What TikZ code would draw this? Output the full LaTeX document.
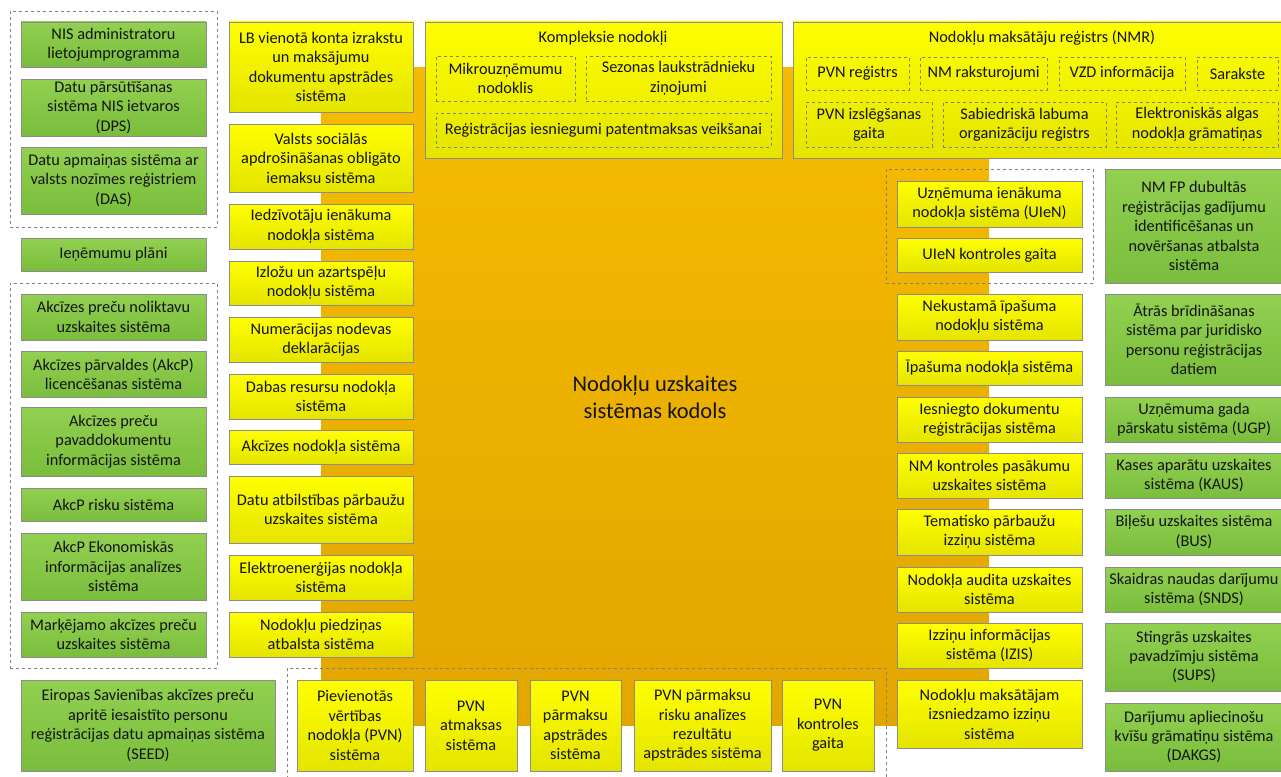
\documentclass[tikz,border=0pt]{standalone}
\usepackage{fontspec}
\setmainfont{Carlito}
\usetikzlibrary{shadows}
\definecolor{gtop}{RGB}{146,208,80}
\definecolor{gbot}{RGB}{122,189,60}
\definecolor{ytop}{RGB}{255,255,0}
\definecolor{ybot}{RGB}{228,228,0}
\definecolor{otop}{RGB}{246,187,0}
\definecolor{obot}{RGB}{226,166,0}
\definecolor{txt}{RGB}{20,20,20}
\definecolor{dash}{RGB}{128,128,128}
\tikzset{
  basebox/.style={rectangle,inner sep=0pt,align=center,text=txt,
    font=\fontsize{16.3}{19.4}\selectfont,
    drop shadow={opacity=0.25,shadow xshift=1pt,shadow yshift=-1pt}},
  gbox/.style={basebox,draw=black!45,top color=gtop,bottom color=gbot},
  ybox/.style={basebox,draw=black!45,top color=ytop,bottom color=ybot},
  ibox/.style={rectangle,inner sep=0pt,align=center,text=txt,draw=dash,dashed,
    font=\fontsize{16.3}{19.4}\selectfont},
  dgroup/.style={rectangle,inner sep=0pt,draw=dash,dashed},
  ttl/.style={text=txt,font=\fontsize{16.3}{19.4}\selectfont,inner sep=0pt}
}
\newcommand\bx[7]{%
  \pgfmathsetmacro\mybw{#4-#2}\pgfmathsetmacro\mybh{#5-#3}%
  \node[#6,minimum width=\mybw pt,minimum height=\mybh pt] (#1) at ({(#2+#4)/2},{(#3+#5)/2}) {#7};}
\begin{document}
\begin{tikzpicture}[x=1pt,y=-1pt]
\useasboundingbox (0,0) rectangle (1281,776);
% core
\path[top color=otop,bottom color=obot] (321,67) rectangle (989,725);
\node[text=txt,align=center,font=\fontsize{22.5}{27}\selectfont] (core) at (655,397) {Nodokļu uzskaites\\sistēmas kodols};
% dashed groups
\bx{dgA}{10}{11}{217}{227}{dgroup}{}
\bx{dgB}{10}{283}{217}{668}{dgroup}{}
\bx{dgC}{886}{169}{1093}{283}{dgroup}{}
\bx{dgD}{287}{668}{886}{790}{dgroup}{}
% left green
\bx{g1}{21}{22}{206}{67}{gbox}{NIS administratoru\\lietojumprogramma}
\bx{g2}{21}{79}{206}{136}{gbox}{Datu pārsūtīšanas\\sistēma NIS ietvaros\\(DPS)}
\bx{g3}{21}{147}{206}{214}{gbox}{Datu apmaiņas sistēma ar\\valsts nozīmes reģistriem\\(DAS)}
\bx{g4}{21}{238}{206}{271}{gbox}{Ieņēmumu plāni}
\bx{g5}{21}{294}{206}{340}{gbox}{Akcīzes preču noliktavu\\uzskaites sistēma}
\bx{g6}{21}{351}{206}{397}{gbox}{Akcīzes pārvaldes (AkcP)\\licencēšanas sistēma}
\bx{g7}{21}{407}{206}{476}{gbox}{Akcīzes preču\\pavaddokumentu\\informācijas sistēma}
\bx{g8}{21}{488}{206}{521}{gbox}{AkcP risku sistēma}
\bx{g9}{21}{533}{206}{600}{gbox}{AkcP Ekonomiskās\\informācijas analīzes\\sistēma}
\bx{g10}{21}{612}{206}{657}{gbox}{Marķējamo akcīzes preču\\uzskaites sistēma}
\bx{g11}{21}{680}{275}{771}{gbox}{Eiropas Savienības akcīzes preču\\apritē iesaistīto personu\\reģistrācijas datu apmaiņas sistēma\\(SEED)}
% left yellow
\bx{y1}{229}{22}{413}{112}{ybox}{LB vienotā konta izrakstu\\un maksājumu\\dokumentu apstrādes\\sistēma}
\bx{y2}{229}{124}{413}{192}{ybox}{Valsts sociālās\\apdrošināšanas obligāto\\iemaksu sistēma}
\bx{y3}{229}{204}{413}{249}{ybox}{Iedzīvotāju ienākuma\\nodokļa sistēma}
\bx{y4}{229}{261}{413}{305}{ybox}{Izložu un azartspēļu\\nodokļu sistēma}
\bx{y5}{229}{317}{413}{362}{ybox}{Numerācijas nodevas\\deklarācijas}
\bx{y6}{229}{374}{413}{419}{ybox}{Dabas resursu nodokļa\\sistēma}
\bx{y7}{229}{430}{413}{464}{ybox}{Akcīzes nodokļa sistēma}
\bx{y8}{229}{476}{413}{543}{ybox}{Datu atbilstības pārbaužu\\uzskaites sistēma}
\bx{y9}{229}{555}{413}{600}{ybox}{Elektroenerģijas nodokļa\\sistēma}
\bx{y10}{229}{612}{413}{657}{ybox}{Nodokļu piedziņas\\atbalsta sistēma}
% top groups
\bx{k}{425}{22}{782}{158}{ybox}{}
\node[ttl] (kt) at (603,38) {Kompleksie nodokļi};
\bx{k1}{436}{56}{575}{101}{ibox}{Mikrouzņēmumu\\nodoklis}
\bx{k2}{586}{56}{771}{101}{ibox}{Sezonas laukstrādnieku\\ziņojumi}
\bx{k3}{436}{113}{771}{147}{ibox}{Reģistrācijas iesniegumi patentmaksas veikšanai}
\bx{n}{793}{22}{1284}{158}{ybox}{}
\node[ttl] (nt) at (1042,38) {Nodokļu maksātāju reģistrs (NMR)};
\bx{n1}{806}{57}{909}{90}{ibox}{PVN reģistrs}
\bx{n2}{920}{57}{1047}{90}{ibox}{NM raksturojumi}
\bx{n3}{1059}{57}{1185}{90}{ibox}{VZD informācija}
\bx{n4}{1197}{57}{1278}{90}{ibox}{Sarakste}
\bx{n5}{806}{102}{932}{147}{ibox}{PVN izslēgšanas\\gaita}
\bx{n6}{943}{102}{1106}{147}{ibox}{Sabiedriskā labuma\\organizāciju reģistrs}
\bx{n7}{1116}{102}{1278}{147}{ibox}{Elektroniskās algas\\nodokļa grāmatiņas}
% right yellow
\bx{r1}{897}{181}{1082}{227}{ybox}{Uzņēmuma ienākuma\\nodokļa sistēma (UIeN)}
\bx{r2}{897}{238}{1082}{272}{ybox}{UIeN kontroles gaita}
\bx{r3}{897}{294}{1082}{340}{ybox}{Nekustamā īpašuma\\nodokļu sistēma}
\bx{r4}{897}{351}{1082}{385}{ybox}{Īpašuma nodokļa sistēma}
\bx{r5}{897}{397}{1082}{442}{ybox}{Iesniegto dokumentu\\reģistrācijas sistēma}
\bx{r6}{897}{453}{1082}{498}{ybox}{NM kontroles pasākumu\\uzskaites sistēma}
\bx{r7}{897}{509}{1082}{555}{ybox}{Tematisko pārbaužu\\izziņu sistēma}
\bx{r8}{897}{567}{1082}{612}{ybox}{Nodokļa audita uzskaites\\sistēma}
\bx{r9}{897}{623}{1082}{668}{ybox}{Izziņu informācijas\\sistēma (IZIS)}
\bx{r10}{897}{680}{1082}{748}{ybox}{Nodokļu maksātājam\\izsniedzamo izziņu\\sistēma}
% right green
\bx{h1}{1105}{169}{1283}{283}{gbox}{NM FP dubultās\\reģistrācijas gadījumu\\identificēšanas un\\novēršanas atbalsta\\sistēma}
\bx{h2}{1105}{294}{1283}{385}{gbox}{Ātrās brīdināšanas\\sistēma par juridisko\\personu reģistrācijas\\datiem}
\bx{h3}{1105}{397}{1283}{442}{gbox}{Uzņēmuma gada\\pārskatu sistēma (UGP)}
\bx{h4}{1105}{453}{1283}{498}{gbox}{Kases aparātu uzskaites\\sistēma (KAUS)}
\bx{h5}{1105}{509}{1283}{555}{gbox}{Biļešu uzskaites sistēma\\(BUS)}
\bx{h6}{1105}{567}{1283}{612}{gbox}{Skaidras naudas darījumu\\sistēma (SNDS)}
\bx{h7}{1105}{623}{1283}{691}{gbox}{Stingrās uzskaites\\pavadzīmju sistēma\\(SUPS)}
\bx{h8}{1105}{703}{1283}{771}{gbox}{Darījumu apliecinošu\\kvīšu grāmatiņu sistēma\\(DAKGS)}
% bottom PVN
\bx{p1}{297}{680}{413}{771}{ybox}{Pievienotās\\vērtības\\nodokļa (PVN)\\sistēma}
\bx{p2}{425}{680}{517}{771}{ybox}{PVN\\atmaksas\\sistēma}
\bx{p3}{530}{680}{621}{771}{ybox}{PVN\\pārmaksu\\apstrādes\\sistēma}
\bx{p4}{634}{680}{771}{771}{ybox}{PVN pārmaksu\\risku analīzes\\rezultātu\\apstrādes sistēma}
\bx{p5}{782}{680}{874}{771}{ybox}{PVN\\kontroles\\gaita}
\end{tikzpicture}
\end{document}
